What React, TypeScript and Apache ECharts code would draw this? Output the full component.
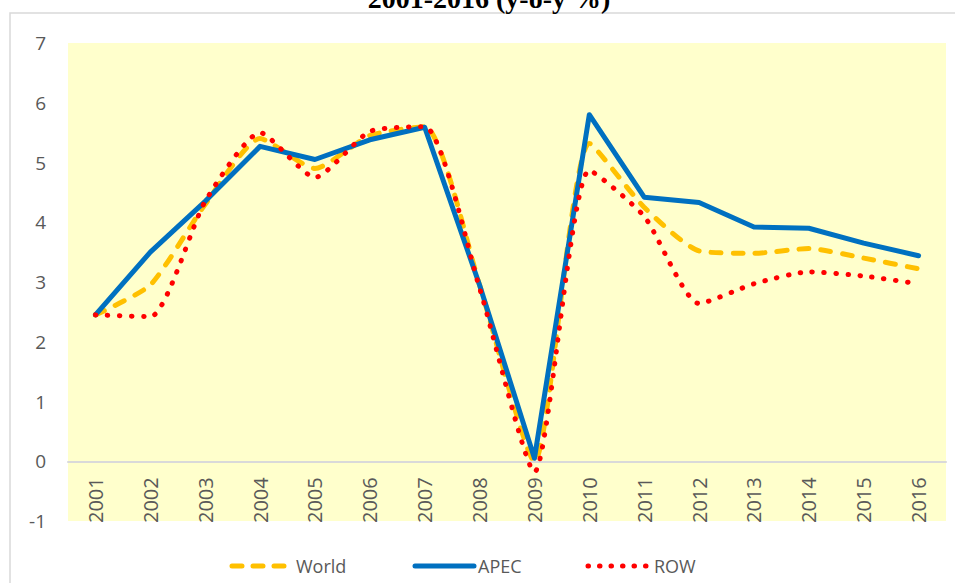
import React, { useEffect, useRef } from "react";
import * as echarts from "echarts";

const years = ["2001", "2002", "2003", "2004", "2005", "2006", "2007", "2008", "2009", "2010", "2011", "2012", "2013", "2014", "2015", "2016"];
const world = [2.45, 2.95, 4.3, 5.4, 4.9, 5.45, 5.6, 2.95, 0.0, 5.32, 4.25, 3.52, 3.48, 3.56, 3.4, 3.22];
const apec = [2.45, 3.5, 4.35, 5.27, 5.05, 5.38, 5.59, 2.95, 0.05, 5.8, 4.42, 4.33, 3.92, 3.9, 3.65, 3.44];
const row = [2.45, 2.42, 4.35, 5.5, 4.75, 5.52, 5.6, 2.9, -0.18, 4.87, 4.1, 2.64, 2.97, 3.17, 3.1, 2.97];
const titleText = "2001-2016 (y-o-y %)";
const legendNames = ["World", "APEC", "ROW"];

export default function App() {
  const ref = useRef<HTMLDivElement>(null);
  useEffect(() => {
    const chart = echarts.init(ref.current!, null, { renderer: "svg" });
    const font = "'Open Sans', sans-serif";
    const ly = 566;
    const legendText = (x: number, t: string) => ({
      type: "text",
      x,
      y: ly,
      style: { text: t, fill: "#595959", font: `18px ${font}`, textAlign: "left", textVerticalAlign: "middle" },
    });
    chart.setOption({
      animation: false,
      backgroundColor: "#ffffff",
      graphic: [
        {
          type: "rect",
          z: -10,
          shape: { x: 10, y: 13, width: 960, height: 600 },
          style: { fill: "none", stroke: "#D9D9D9", lineWidth: 1.5 },
        },
        {
          type: "text",
          x: 489,
          y: 12,
          style: {
            text: titleText,
            fill: "#000",
            font: "bold 28px 'Liberation Serif', serif",
            textAlign: "center",
            textVerticalAlign: "bottom",
          },
        },
        {
          type: "line",
          shape: { x1: 232, y1: ly, x2: 285, y2: ly },
          style: { stroke: "#FFC000", lineWidth: 5, lineDash: [10, 11], lineCap: "round" },
        },
        legendText(296, legendNames[0]),
        {
          type: "line",
          shape: { x1: 415, y1: ly, x2: 474, y2: ly },
          style: { stroke: "#0070C0", lineWidth: 5, lineCap: "round" },
        },
        legendText(478, legendNames[1]),
        {
          type: "line",
          shape: { x1: 588, y1: ly, x2: 646, y2: ly },
          style: { stroke: "#FF0000", lineWidth: 5, lineDash: [0.5, 11], lineCap: "round" },
        },
        legendText(654, legendNames[2]),
      ],
      grid: {
        left: 68,
        right: 9,
        top: 43,
        bottom: 62,
        show: true,
        backgroundColor: "#FFFFCC",
        borderWidth: 0,
      },
      xAxis: {
        type: "category",
        data: years,
        boundaryGap: true,
        offset: -59.75,
        axisLine: { onZero: false, lineStyle: { color: "#D9D9D9", width: 2 } },
        axisTick: { show: false },
        axisLabel: { rotate: 90, color: "#595959", fontSize: 20, fontFamily: font, margin: 16 },
        splitLine: { show: false },
      },
      yAxis: {
        type: "value",
        min: -1,
        max: 7,
        interval: 1,
        axisLine: { show: false },
        axisTick: { show: false },
        splitLine: { show: false },
        axisLabel: { color: "#595959", fontSize: 19, fontFamily: font, margin: 22 },
      },
      series: [
        {
          name: "World",
          type: "line",
          data: world,
          smooth: 0.2,
          symbol: "none",
          lineStyle: { color: "#FFC000", width: 5, type: [10, 12], cap: "round" },
          itemStyle: { color: "#FFC000" },
        },
        {
          name: "APEC",
          type: "line",
          data: apec,
          smooth: false,
          symbol: "none",
          lineStyle: { color: "#0070C0", width: 5, cap: "round", join: "round" },
          itemStyle: { color: "#0070C0" },
        },
        {
          name: "ROW",
          type: "line",
          data: row,
          smooth: 0.2,
          symbol: "none",
          lineStyle: { color: "#FF0000", width: 5, type: [0.5, 11.5], cap: "round" },
          itemStyle: { color: "#FF0000" },
        },
      ],
    });
    return () => chart.dispose();
  }, []);
  return <div ref={ref} style={{ position: "fixed", left: 0, top: 0, width: 955, height: 583 }} />;
}
